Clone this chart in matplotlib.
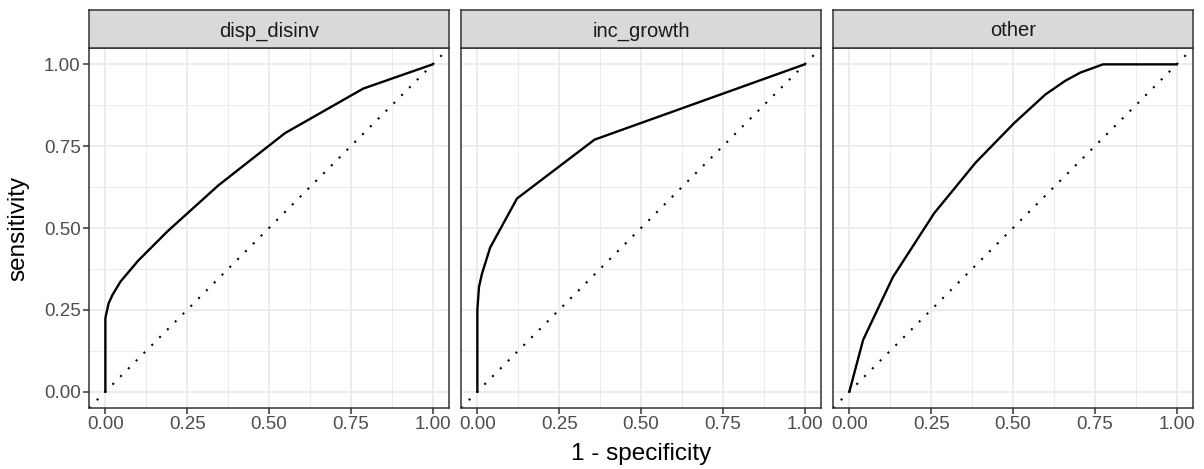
import matplotlib
matplotlib.use("Agg")
import matplotlib.pyplot as plt

plt.rcParams["font.family"] = ["Liberation Sans", "DejaVu Sans"]

# Підписи панелей
panels = ["disp_disinv", "inc_growth", "other"]

# ROC-криві (1 - specificity, sensitivity)
disp_x = [0.0, 0.0, 0.01, 0.022, 0.046, 0.10, 0.19, 0.345, 0.549, 0.788, 1.0]
disp_y = [0.0, 0.225, 0.27, 0.296, 0.336, 0.40, 0.49, 0.63, 0.79, 0.926, 1.0]

inc_x = [0.0, 0.0, 0.005, 0.014, 0.039, 0.121, 0.358, 1.0]
inc_y = [0.0, 0.25, 0.32, 0.36, 0.44, 0.59, 0.77, 1.0]

other_x = [0.0, 0.042, 0.133, 0.259, 0.386, 0.503, 0.599, 0.66, 0.706, 0.775, 1.0]
other_y = [0.0, 0.158, 0.35, 0.545, 0.70, 0.82, 0.908, 0.95, 0.975, 1.0, 1.0]

curves = [(disp_x, disp_y), (inc_x, inc_y), (other_x, other_y)]

major = [0.0, 0.25, 0.5, 0.75, 1.0]
minor = [0.125, 0.375, 0.625, 0.875]
tick_labels = ["0.00", "0.25", "0.50", "0.75", "1.00"]

W, H = 1204, 469
fig = plt.figure(figsize=(W / 100, H / 100), dpi=100)

lefts = [89, 461, 833]
width = 360
top, bottom = 48, 408
strip_h = 38

for i, (name, (xs, ys)) in enumerate(zip(panels, curves)):
    ax = fig.add_axes([lefts[i] / W, 1 - bottom / H, width / W, (bottom - top) / H])
    ax.set_xlim(-0.05, 1.05)
    ax.set_ylim(-0.05, 1.05)

    # Сітка як у theme_bw
    for v in major:
        ax.axvline(v, color="#EBEBEB", lw=1.3, zorder=0)
        ax.axhline(v, color="#EBEBEB", lw=1.3, zorder=0)
    for v in minor:
        ax.axvline(v, color="#EBEBEB", lw=0.7, zorder=0)
        ax.axhline(v, color="#EBEBEB", lw=0.7, zorder=0)

    ax.plot([-0.05, 1.05], [-0.05, 1.05], color="black", lw=1.5,
            linestyle=(0, (1, 4.3)), zorder=2)
    ax.plot(xs, ys, color="black", lw=1.7, zorder=3, solid_joinstyle="round")

    ax.set_xticks(major)
    ax.set_xticklabels(tick_labels)
    ax.set_yticks(major)
    if i == 0:
        ax.set_yticklabels(tick_labels)
        ax.tick_params(axis="y", length=4, width=1.1, color="#333333",
                       labelsize=13.5, labelcolor="#4D4D4D", pad=2)
    else:
        ax.tick_params(axis="y", left=False, labelleft=False)
    ax.tick_params(axis="x", length=4, width=1.1, color="#333333",
                   labelsize=13.5, labelcolor="#4D4D4D", pad=2)

    for s in ax.spines.values():
        s.set_color("#333333")
        s.set_linewidth(1.1)

    # Смужка з назвою панелі
    sax = fig.add_axes([lefts[i] / W, 1 - top / H, width / W, strip_h / H])
    sax.set_facecolor("#D9D9D9")
    sax.set_xticks([])
    sax.set_yticks([])
    for s in sax.spines.values():
        s.set_color("#333333")
        s.set_linewidth(1.1)
    sax.text(0.5, 0.45, name, ha="center", va="center", fontsize=14.5,
             color="#1A1A1A", transform=sax.transAxes)

fig.text(641 / W, 1 - 454 / H, "1 - specificity", ha="center", va="center", fontsize=17.5)
fig.text(18 / W, 1 - 228 / H, "sensitivity", ha="center", va="center",
         rotation=90, fontsize=17.5)

fig.savefig("out.png", dpi=100, facecolor="white")
